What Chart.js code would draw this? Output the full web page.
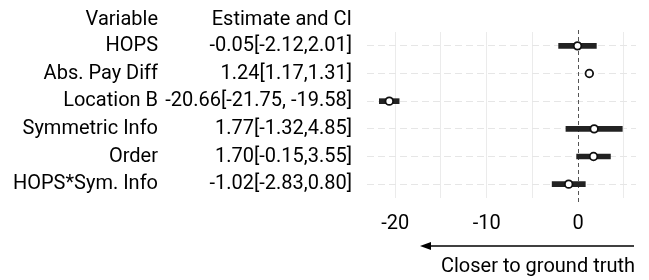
<!DOCTYPE html>
<html>
<head>
<meta charset="utf-8">
<script src="https://cdn.jsdelivr.net/npm/chart.js@4"></script>
<style>
  html, body { margin: 0; padding: 0; background: #fff; }
  #wrap { width: 649px; height: 280px; }
</style>
</head>
<body>
<div id="wrap"><canvas id="forest"></canvas></div>
<script>
// data
const variables = ['HOPS', 'Abs. Pay Diff', 'Location B', 'Symmetric Info', 'Order', 'HOPS*Sym. Info'];
const estimates = [-0.05, 1.24, -20.66, 1.77, 1.70, -1.02];
const ciLow = [-2.12, 1.17, -21.75, -1.32, -0.15, -2.83];
const ciHigh = [2.01, 1.31, -19.58, 4.85, 3.55, 0.80];
const ciText = ['-0.05[-2.12,2.01]', '1.24[1.17,1.31]', '-20.66[-21.75, -19.58]',
                '1.77[-1.32,4.85]', '1.70[-0.15,3.55]', '-1.02[-2.83,0.80]'];
const xTickLabels = [-20, -10, 0];

const FONT = 'Roboto, "Noto Sans", sans-serif';
const FS = 20;

// Function to draw the left-hand table, zero line and the arrow note
const tablePlugin = {
    id: 'tablePlugin',
    beforeDatasetsDraw(chart) {
        const ctx = chart.ctx;
        const x = chart.scales.x;
        const area = chart.chartArea;
        // dashed zero reference line
        ctx.save();
        ctx.strokeStyle = '#555';
        ctx.lineWidth = 1;
        ctx.setLineDash([4, 3]);
        const zx = Math.round(x.getPixelForValue(0)) + 0.5;
        ctx.beginPath();
        ctx.moveTo(zx, area.top - 2);
        ctx.lineTo(zx, area.bottom + 4);
        ctx.stroke();
        ctx.restore();
    },
    afterDraw(chart) {
        const ctx = chart.ctx;
        const x = chart.scales.x;
        const y = chart.scales.y;
        const area = chart.chartArea;
        ctx.save();
        ctx.fillStyle = '#000';
        ctx.font = FS + 'px ' + FONT;
        ctx.textAlign = 'right';
        ctx.textBaseline = 'middle';
        ctx.fillText('Variable', 158, 20);
        ctx.fillText('Estimate and CI', 352, 20);
        variables.forEach((v, i) => {
            const py = y.getPixelForValue(i);
            ctx.fillText(v, 158, py);
            ctx.fillText(ciText[i], 352, py);
        });
        // arrow pointing to the left
        const ay = 246;
        const ax0 = x.getPixelForValue(-17.3);
        const ax1 = area.right - 2;
        ctx.strokeStyle = '#000';
        ctx.lineWidth = 1.5;
        ctx.beginPath();
        ctx.moveTo(ax0 + 8, ay);
        ctx.lineTo(ax1, ay);
        ctx.stroke();
        ctx.beginPath();
        ctx.moveTo(ax0, ay);
        ctx.lineTo(ax0 + 11, ay - 4);
        ctx.lineTo(ax0 + 11, ay + 4);
        ctx.closePath();
        ctx.fill();
        ctx.textAlign = 'center';
        ctx.fillText('Closer to ground truth', 538, 267);
        ctx.restore();
    }
};

new Chart(document.getElementById('forest'), {
    type: 'bar',
    data: {
        labels: variables,
        datasets: [{
            type: 'line',
            indexAxis: 'y',
            data: estimates.map((e, i) => ({x: e, y: variables[i]})),
            showLine: false,
            pointRadius: 3.8,
            pointBorderWidth: 1.8,
            pointBackgroundColor: '#fff',
            pointBorderColor: '#111',
            order: 0
        }, {
            data: ciLow.map((lo, i) => [lo, ciHigh[i]]),
            backgroundColor: '#222',
            barThickness: 5,
            borderSkipped: false,
            order: 1
        }]
    },
    options: {
        indexAxis: 'y',
        responsive: true,
        maintainAspectRatio: false,
        animation: false,
        layout: { padding: { left: 367, right: 13, top: 32, bottom: 42 } },
        plugins: { legend: { display: false }, tooltip: { enabled: false } },
        scales: {
            x: {
                type: 'linear',
                min: -23.1,
                max: 6.35,
                afterBuildTicks: (axis) => {
                    axis.ticks = [-20, -15, -10, -5, 0, 5].map(v => ({value: v}));
                },
                afterFit: (axis) => { axis.height = 40; },
                ticks: {
                    font: { family: FONT, size: FS },
                    color: '#000',
                    padding: 14,
                    maxRotation: 0,
                    callback: (v) => xTickLabels.includes(v) ? String(v) : ''
                },
                grid: { color: (c) => c.tick && c.tick.value === 0 ? 'rgba(0,0,0,0)' : '#ebebeb', drawTicks: false },
                border: { display: false }
            },
            y: {
                type: 'category',
                ticks: { display: false },
                grid: { color: '#e6e6e6', offset: false, drawTicks: false },
                border: { display: false, dash: [7, 4] }
            }
        }
    },
    plugins: [tablePlugin]
});
</script>
</body>
</html>
